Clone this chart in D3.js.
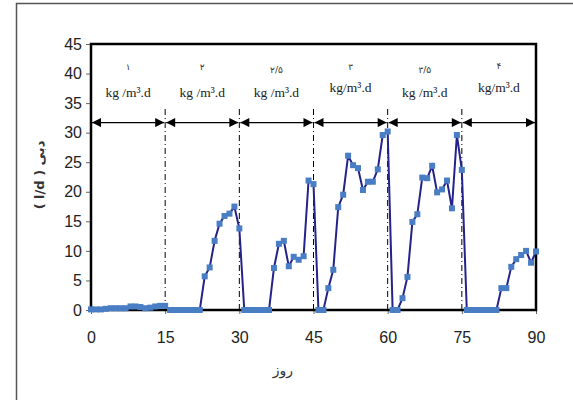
<!DOCTYPE html>
<html><head><meta charset="utf-8">
<script src="https://cdn.jsdelivr.net/npm/d3@7"></script>
<style>body{margin:0;background:#fff;} svg{display:block;}</style>
</head><body>
<script>
// ---- data ----
const days = d3.range(0, 91);
const flow = [
  0.1,0.1,0.1,0.2,0.3,0.3,0.3,0.3,0.6,0.6,0.5,0.3,0.4,0.6,0.7,0.7,
  0,0,0,0,0,0,0,
  5.7,7.2,11.7,14.6,15.9,16.3,17.5,13.8,
  0,0,0,0,0,0,
  7.1,11.2,11.7,7.4,9.0,8.5,9.1,21.9,21.3,
  0,0,
  3.7,6.8,17.4,19.5,26.1,24.5,24.0,20.3,21.7,21.7,23.8,29.6,30.2,
  0,0,
  2.0,5.6,14.9,16.2,22.4,22.3,24.4,19.9,20.4,21.9,17.2,29.6,23.7,
  0,0,0,0,0,0,0,
  3.7,3.7,7.3,8.6,9.3,10.0,8.0,9.9
];
const boundaries = [0,15,30,45,60,75,90];
const loadLabels = ["۱","۲","۲/۵","۳","۳/۵","۴"];
const unitLabels = ["kg /m³.d","kg /m³.d","kg /m³.d","kg/m³.d","kg /m³.d","kg/m³.d"];
const xTicks = [0,15,30,45,60,75,90];
const yTicks = [0,5,10,15,20,25,30,35,40,45];
const arrowLevel = 31.7;
const xTitle = "روز";
const yTitle = "( l/d ) دبی";

// ---- layout ----
const W = 573, H = 400;
const svg = d3.select("body").append("svg").attr("width", W).attr("height", H);
const x = d3.scaleLinear().domain([0,90]).range([91,536]);
const y = d3.scaleLinear().domain([0,45]).range([310,44]);

// outer frame
svg.append("rect").attr("x",16.5).attr("y",3.5).attr("width",W).attr("height",H)
  .attr("fill","none").attr("stroke","#555").attr("stroke-width",1.5);

// axes
const yAxis = svg.append("g").attr("transform",`translate(${x(0)},0)`)
  .call(d3.axisLeft(y).tickValues(yTicks).tickSize(5).tickPadding(4));
const xAxis = svg.append("g").attr("transform",`translate(0,${y(0)})`)
  .call(d3.axisBottom(x).tickValues(xTicks).tickSize(4).tickPadding(18));
[yAxis,xAxis].forEach(g=>{
  g.select(".domain").remove();
  g.selectAll("line").attr("stroke","#666").attr("stroke-width",1);
  g.selectAll("text").attr("font-family","Liberation Sans, Arial, sans-serif")
    .attr("font-size",16).attr("fill","#222");
});

// plot border
svg.append("rect").attr("x",x(0)).attr("y",y(45)).attr("width",x(90)-x(0)).attr("height",y(0)-y(45))
  .attr("fill","none").attr("stroke","#000").attr("stroke-width",2.5);

// dash-dot boundaries
svg.append("g").selectAll("line").data(boundaries.slice(1,-1)).join("line")
  .attr("x1",d=>x(d)).attr("x2",d=>x(d)).attr("y1",109).attr("y2",y(0))
  .attr("stroke","#000").attr("stroke-width",1).attr("stroke-dasharray","6,3,1,3");

// arrows
const defs = svg.append("defs");
defs.append("marker").attr("id","ah").attr("viewBox","0 0 10 10").attr("refX",10).attr("refY",5)
  .attr("markerWidth",10).attr("markerHeight",9).attr("markerUnits","userSpaceOnUse").attr("orient","auto-start-reverse")
  .append("path").attr("d","M0,0 L10,5 L0,10 Z").attr("fill","#000");
const segs = d3.range(6).map(i=>({a:boundaries[i],b:boundaries[i+1],load:loadLabels[i],unit:unitLabels[i],i}));
svg.append("g").selectAll("line").data(segs).join("line")
  .attr("x1",d=>x(d.a)+1).attr("x2",d=>x(d.b)-1).attr("y1",y(arrowLevel)).attr("y2",y(arrowLevel))
  .attr("stroke","#000").attr("stroke-width",1.3)
  .attr("marker-start","url(#ah)").attr("marker-end","url(#ah)");

// segment labels
const highUnit = [false,false,false,true,false,true];
const lg = svg.append("g");
lg.selectAll("text.load").data(segs).join("text").attr("class","load")
  .attr("x",d=>x((d.a+d.b)/2)).attr("y",d=>[70,70,73,70,73,69][d.i])
  .attr("text-anchor","middle").attr("font-family","DejaVu Sans, Noto Sans, sans-serif")
  .attr("font-size",9).attr("fill","#333").text(d=>d.load);
lg.selectAll("text.unit").data(segs).join("text").attr("class","unit")
  .attr("x",d=>x((d.a+d.b)/2)).attr("y",d=>highUnit[d.i]?92:97)
  .attr("text-anchor","middle").attr("font-family","Liberation Serif, Times New Roman, serif")
  .attr("font-size",13.5).attr("fill","#222").text(d=>d.unit);

// data line
const pts = days.map((d,i)=>({d,v:flow[i]}));
svg.append("path").datum(pts)
  .attr("d",d3.line().x(p=>x(p.d)).y(p=>y(p.v)))
  .attr("fill","none").attr("stroke","#23238a").attr("stroke-width",2);
svg.append("g").selectAll("rect").data(pts).join("rect")
  .attr("x",p=>x(p.d)-3).attr("y",p=>y(p.v)-3).attr("width",6).attr("height",6)
  .attr("fill","#4a7ec4");

// titles
svg.append("text").attr("x",283).attr("y",375).attr("text-anchor","middle")
  .attr("font-family","DejaVu Sans, Noto Sans, sans-serif").attr("font-size",14).attr("fill","#333").text(xTitle);
svg.append("text").attr("transform","translate(44,175) rotate(-90)").attr("text-anchor","middle")
  .attr("direction","ltr")
  .attr("font-family","DejaVu Sans, Noto Sans, sans-serif").attr("font-size",13).attr("font-weight","bold").attr("fill","#333").text(yTitle);
</script>
</body></html>
